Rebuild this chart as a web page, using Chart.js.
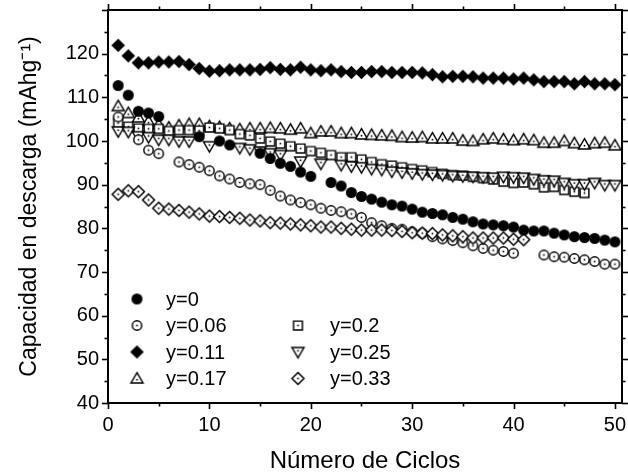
<!DOCTYPE html>
<html>
<head>
<meta charset="utf-8">
<script src="https://cdn.jsdelivr.net/npm/chart.js@4.4.1/dist/chart.umd.min.js"></script>
<style>
  html, body { margin: 0; padding: 0; background: #fff; }
  #wrap { width: 628px; height: 472px; }
</style>
</head>
<body>
<div id="wrap"><canvas id="c" width="628" height="472"></canvas></div>
<script>
// Cycle number (x) for every series
const cycles = [1,2,3,4,5,6,7,8,9,10,11,12,13,14,15,16,17,18,19,20,
                21,22,23,24,25,26,27,28,29,30,31,32,33,34,35,36,37,38,39,40,
                41,42,43,44,45,46,47,48,49,50];

// Discharge capacity (mAh/g) per composition; null = no measurement shown
const capY0 = [112.7,110.5,106.8,106.4,105.6,null,null,null,101.0,null,
               100.0,99.1,null,null,97.2,96.0,94.9,94.2,92.9,91.9,
               null,90.5,89.7,88.2,87.3,86.7,86.0,85.4,85.1,84.4,
               83.7,83.4,83.1,82.5,82.1,81.5,81.0,80.8,80.6,80.3,
               79.6,79.4,79.4,78.9,78.5,78.1,77.9,77.7,77.3,76.9];
const capY006 = [105.5,null,100.3,97.9,97.1,null,95.2,94.6,94.0,93.2,
                 92.0,91.3,90.5,90.2,90.0,88.7,87.4,86.5,85.9,85.4,
                 84.6,84.1,83.8,83.3,82.5,81.3,80.6,80.0,79.8,79.2,
                 78.9,78.1,77.6,77.2,76.7,76.0,75.4,75.0,74.7,74.3,
                 null,null,73.9,73.5,73.4,73.1,72.8,72.4,71.8,71.8];
const capY011 = [121.9,119.5,117.9,117.9,118.1,118.1,118.2,117.5,116.6,116.0,
                 116.1,116.3,116.3,116.3,116.4,116.8,116.4,116.3,116.9,116.3,
                 116.1,116.3,115.9,115.7,115.7,115.9,115.9,115.7,115.7,115.7,
                 115.6,115.2,114.7,114.8,114.8,114.7,114.4,114.4,114.4,114.2,
                 114.4,114.0,113.6,113.6,113.6,113.1,113.6,113.1,113.1,112.9];
const capY017 = [108.0,106.4,105.4,104.5,103.8,103.1,103.6,103.9,103.9,103.4,
                 103.2,102.9,102.7,102.9,102.9,103.0,102.9,102.6,102.9,101.8,
                 102.2,102.2,101.8,101.8,101.5,101.4,101.3,101.2,100.9,100.8,
                 100.9,100.6,100.6,100.6,100.1,100.0,100.4,100.6,100.4,100.2,
                 100.4,100.2,99.6,99.6,100.0,99.5,99.2,99.5,99.6,99.0];
const capY02 = [104.1,103.3,102.9,102.8,102.8,102.3,102.5,102.5,102.4,103.1,
                102.9,102.5,101.6,101.3,100.6,99.9,99.4,98.8,98.3,97.7,
                97.3,96.8,96.3,96.3,95.8,95.2,94.7,94.4,94.0,93.6,
                93.3,92.9,92.5,92.2,92.1,91.8,91.5,91.2,90.7,90.4,
                90.5,90.1,89.4,89.5,88.8,88.4,88.1,null,null,null];
const capY025 = [102.2,102.1,101.1,100.9,100.3,100.3,99.9,99.9,null,98.8,
                 null,null,98.4,98.1,97.6,97.2,96.8,null,95.3,null,
                 94.8,null,94.5,94.2,94.0,93.6,93.4,93.0,92.8,92.6,
                 92.4,92.3,92.2,92.0,91.9,91.8,91.7,91.6,91.8,91.7,
                 91.6,91.3,91.0,90.9,90.4,90.1,90.1,90.4,89.9,89.9];
const capY033 = [87.8,88.6,88.4,86.5,84.6,84.4,84.1,83.7,83.3,82.8,
                 82.7,82.5,82.3,81.9,81.7,81.3,81.2,81.0,80.8,80.6,
                 80.3,80.3,80.0,79.8,79.6,79.6,79.6,79.5,79.3,79.0,
                 78.9,78.8,78.5,78.3,78.1,77.8,77.8,77.8,77.8,77.5,
                 77.4,null,null,null,null,null,null,null,null,null];

const seriesLabels = ['y=0', 'y=0.06', 'y=0.11', 'y=0.17', 'y=0.2', 'y=0.25', 'y=0.33'];
const xTicks = [0, 10, 20, 30, 40, 50];
const yTicks = [40, 50, 60, 70, 80, 90, 100, 110, 120];

const FONT = "'Liberation Sans', Arial, Helvetica, sans-serif";

// Marker sprites: black filled shapes, or white-filled outlined shapes with a centre dot
function marker(kind) {
  const s = 17, m = s / 2;
  const c = document.createElement('canvas');
  c.width = s; c.height = s;
  const g = c.getContext('2d');
  g.lineWidth = 1.45;
  g.strokeStyle = '#000';
  g.fillStyle = '#fff';
  g.beginPath();
  let dotY = m;
  if (kind === 'disc') {
    g.arc(m, m, 5.5, 0, Math.PI * 2);
    g.fillStyle = '#000'; g.fill();
    return c;
  }
  if (kind === 'solidDiamond') {
    g.moveTo(m, m - 6.8); g.lineTo(m + 6.8, m); g.lineTo(m, m + 6.8); g.lineTo(m - 6.8, m); g.closePath();
    g.fillStyle = '#000'; g.fill();
    return c;
  }
  if (kind === 'ring') {
    g.arc(m, m, 4.7, 0, Math.PI * 2);
  } else if (kind === 'tri') {
    g.moveTo(m, m - 5.8); g.lineTo(m + 6, m + 4.5); g.lineTo(m - 6, m + 4.5); g.closePath();
    dotY = m + 1.2;
  } else if (kind === 'triDown') {
    g.moveTo(m - 6, m - 4.5); g.lineTo(m + 6, m - 4.5); g.lineTo(m, m + 5.8); g.closePath();
    dotY = m - 1.2;
  } else if (kind === 'square') {
    g.rect(m - 4.4, m - 4.4, 8.8, 8.8);
  } else if (kind === 'diamond') {
    g.moveTo(m, m - 6); g.lineTo(m + 6, m); g.lineTo(m, m + 6); g.lineTo(m - 6, m); g.closePath();
  }
  g.fill();
  g.stroke();
  g.fillStyle = '#000';
  g.fillRect(m - 0.8, dotY - 0.8, 1.6, 1.6);
  return c;
}

const markers = {
  y0: marker('disc'),
  y006: marker('ring'),
  y011: marker('solidDiamond'),
  y017: marker('tri'),
  y02: marker('square'),
  y025: marker('triDown'),
  y033: marker('diamond')
};

function pts(values) {
  return cycles.map((c, i) => ({ x: c, y: values[i] }));
}

function series(label, values, img, order) {
  return {
    label, data: pts(values), pointStyle: img, pointRadius: 5,
    showLine: false, order, borderColor: '#000', backgroundColor: '#000'
  };
}

const datasets = [
  series(seriesLabels[0], capY0, markers.y0, 1),
  series(seriesLabels[1], capY006, markers.y006, 3),
  series(seriesLabels[2], capY011, markers.y011, 0),
  series(seriesLabels[3], capY017, markers.y017, 6),
  series(seriesLabels[4], capY02, markers.y02, 5),
  series(seriesLabels[5], capY025, markers.y025, 4),
  series(seriesLabels[6], capY033, markers.y033, 2)
];

// Boxed frame with outward major/minor ticks on all four sides
const axisFrame = {
  id: 'axisFrame',
  afterDatasetsDraw(chart) {
    const { ctx, chartArea: a, scales } = chart;
    const xs = scales.x, ys = scales.y;
    const major = 6, minor = 3.5, step = 5;
    ctx.save();
    ctx.strokeStyle = '#000';
    ctx.lineWidth = 1.6;
    const line = (x1, y1, x2, y2) => { ctx.beginPath(); ctx.moveTo(x1, y1); ctx.lineTo(x2, y2); ctx.stroke(); };
    for (let v = Math.ceil(xs.min / step) * step; v <= xs.max + 1e-9; v += step) {
      const px = Math.round(xs.getPixelForValue(v)) + 0.5;
      const len = v % 10 === 0 ? major : minor;
      line(px, a.bottom, px, a.bottom + len);
      line(px, a.top, px, a.top - len);
    }
    for (let v = Math.ceil(ys.min / step) * step; v <= ys.max + 1e-9; v += step) {
      const py = Math.round(ys.getPixelForValue(v)) + 0.5;
      const len = v % 10 === 0 ? major : minor;
      line(a.left, py, a.left - len, py);
      line(a.right, py, a.right + len, py);
    }
    ctx.lineWidth = 2;
    ctx.strokeRect(a.left, a.top, a.right - a.left, a.bottom - a.top);
    ctx.restore();
  }
};

// Two-column legend inside the plot area
const insetLegend = {
  id: 'insetLegend',
  afterDraw(chart) {
    const { ctx, chartArea: a } = chart;
    const slots = [
      { i: 0, col: 0, row: 0 }, { i: 1, col: 0, row: 1 }, { i: 2, col: 0, row: 2 }, { i: 3, col: 0, row: 3 },
      { i: 4, col: 1, row: 1 }, { i: 5, col: 1, row: 2 }, { i: 6, col: 1, row: 3 }
    ];
    const colMarkX = [a.left + 29, a.left + 190];
    const colTextX = [a.left + 58, a.left + 222];
    const rowY0 = a.top + 289, rowH = 26.5;
    ctx.save();
    ctx.font = '20px ' + FONT;
    ctx.fillStyle = '#000';
    ctx.textBaseline = 'middle';
    ctx.textAlign = 'left';
    slots.forEach(s => {
      const ds = chart.data.datasets[s.i];
      const img = ds.pointStyle;
      const y = rowY0 + s.row * rowH;
      ctx.drawImage(img, colMarkX[s.col] - img.width / 2, y - img.height / 2);
      ctx.fillText(ds.label, colTextX[s.col], y + 1);
    });
    ctx.restore();
  }
};

new Chart(document.getElementById('c'), {
  type: 'scatter',
  data: { datasets },
  plugins: [axisFrame, insetLegend],
  options: {
    responsive: false,
    animation: false,
    devicePixelRatio: 1,
    layout: { padding: { left: 0, right: 6, top: 10, bottom: 0 } },
    plugins: { legend: { display: false }, tooltip: { enabled: false } },
    scales: {
      x: {
        type: 'linear', min: 0, max: 50.7,
        afterBuildTicks: s => { s.ticks = xTicks.map(v => ({ value: v })); },
        afterFit: s => { s.height = 69; s.paddingLeft = 0; s.paddingRight = 0; },
        grid: { display: false, drawTicks: false },
        border: { display: false },
        ticks: { color: '#000', font: { family: FONT, size: 20 }, padding: 10, maxRotation: 0 },
        title: { display: true, text: 'Número de Ciclos', color: '#000',
                 font: { family: FONT, size: 24 }, padding: { top: 0, bottom: -4 } }
      },
      y: {
        type: 'linear', min: 40, max: 130,
        afterBuildTicks: s => { s.ticks = yTicks.map(v => ({ value: v })); },
        afterFit: s => { s.width = 108; s.paddingTop = 0; s.paddingBottom = 0; },
        grid: { display: false, drawTicks: false },
        border: { display: false },
        ticks: { color: '#000', font: { family: FONT, size: 20 }, padding: 9 },
        title: { display: true, text: 'Capacidad en descarga (mAhg⁻¹)', color: '#000',
                 font: { family: FONT, size: 23 }, padding: { top: 16, bottom: 0 } }
      }
    }
  }
});
</script>
</body>
</html>
